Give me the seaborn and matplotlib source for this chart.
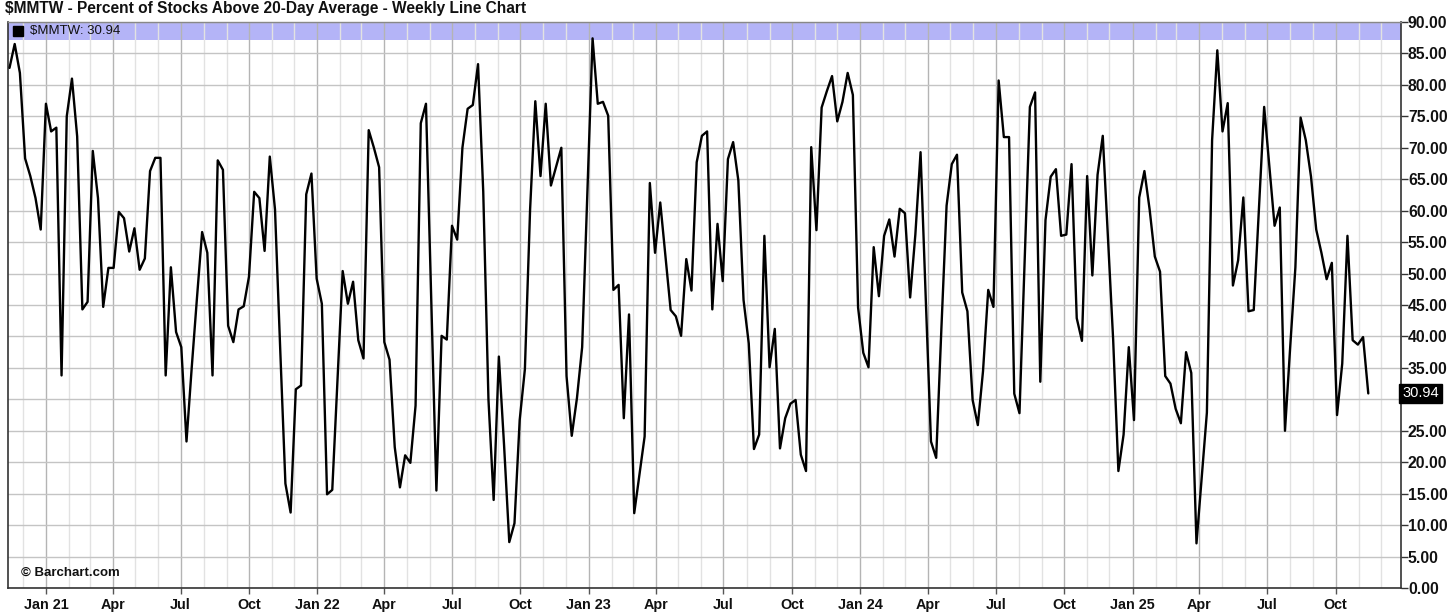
import numpy as np
import pandas as pd
import matplotlib
matplotlib.use("Agg")
import matplotlib.pyplot as plt
import matplotlib.dates as mdates
from matplotlib import font_manager
import seaborn as sns

# ---------------- data ----------------
start_date = "2020-11-13"
mmtw_values = [
    82.7, 86.5, 81.9, 68.3, 65.5, 62, 57, 77, 72.6, 73.2, 33.8, 75, 81, 71.8, 44.3, 45.5,
    69.5, 62, 44.7, 50.9, 50.9, 59.8, 58.8, 53.5, 57.2, 50.6, 52.4, 66.3, 68.4, 68.4, 33.8, 51, 40.7,
    38.3, 23.3, 35, 46, 56.6, 53.3, 33.8, 68, 66.5, 41.7, 39.1, 44.3, 44.8, 49.5, 63, 62, 53.6,
    68.6, 60.2, 38, 16.6, 12, 31.6, 32.2, 62.6, 65.9, 49.2, 45.2, 14.9, 15.6, 33, 50.4, 45.2, 48.7,
    39.4, 36.5, 72.8, 70, 66.9, 39.1, 36.3, 22.4, 16, 21.1, 19.9, 29, 73.9, 77, 46.4, 15.5, 40.1,
    39.5, 57.6, 55.4, 70, 76.2, 76.8, 83.3, 63, 30, 14, 36.8, 22.7, 7.3, 10.3, 26.7, 34.8,
    60.2, 77.4, 65.5, 77, 64, 67, 70, 33.7, 24.2, 30.2, 38.3, 62.8, 87.4, 77, 77.3, 75.1, 47.4,
    48.2, 27, 43.5, 11.9, 18, 24.1, 64.4, 53.3, 61.3, 52.7, 44.2, 43.2, 40.1, 52.3, 47.3, 67.7, 71.9,
    72.6, 44.3, 57.9, 48.8, 68.2, 70.9, 64.8, 45.8, 38.9, 22.1, 24.4, 56, 35.1, 41.2, 22.2, 27,
    29.3, 29.9, 21.2, 18.6, 70.1, 56.9, 76.4, 79, 81.4, 74.2, 77.3, 81.9, 78.4, 44.6, 37.4, 35.1, 54.2, 46.4,
    56, 58.6, 52.7, 60.3, 59.6, 46.2, 56.2, 69.3, 46, 23.3, 20.7, 41.2, 60.8, 67.4, 68.9, 47, 44,
    29.9, 25.9, 34.5, 47.4, 44.7, 80.7, 71.7, 71.7, 30.9, 27.8, 52.1, 76.5, 78.8, 32.8, 58.5, 65.4, 66.6,
    56, 56.2, 67.4, 42.9, 39.3, 65.5, 49.7, 65.7, 71.9, 55.6, 39.4, 18.6, 24.4, 38.3, 26.7, 62.1,
    66.3, 60.2, 52.7, 50.3, 33.7, 32.5, 28.5, 26.2, 37.5, 34.2, 7.1, 17.5, 27.9, 71.2, 85.5, 72.6, 77.1,
    48.1, 52.1, 62.1, 44, 44.2, 60.2, 76.5, 67.1, 57.6, 60.5, 25, 38.3, 51, 74.8, 71.2, 65.4, 57,
    53.3, 49.1, 51.7, 27.5, 35.7, 56, 39.4, 38.7, 39.9, 30.94,
]
last_value = 30.94
title_text = r"\$MMTW - Percent of Stocks Above 20-Day Average - Weekly Line Chart"
legend_text = r"\$MMTW: 30.94"
y_ticks = list(range(0, 95, 5))

dates = pd.date_range(start_date, periods=len(mmtw_values), freq="7D")
df = pd.DataFrame({"date": dates, "value": mmtw_values})

# ---------------- style ----------------
sns.set_style("white")
avail = {f.name for f in font_manager.fontManager.ttflist}
fam = [f for f in ["Liberation Sans Narrow", "Liberation Sans", "DejaVu Sans"] if f in avail]
plt.rcParams["font.family"] = fam
narrow = fam[0]
is_narrow = narrow == "Liberation Sans Narrow"
k = 1.0 if is_narrow else 0.83  # shrink regular-width font to match narrow widths

fig = plt.figure(figsize=(14.56, 6.15), dpi=100)
ax = fig.add_axes([8 / 1456, (615 - 588) / 615, 1393 / 1456, (588 - 22) / 615])

sns.lineplot(data=df, x="date", y="value", ax=ax, color="black", linewidth=1.7, zorder=3)

ax.set_xlim(pd.Timestamp("2020-11-11"), pd.Timestamp("2025-12-28"))
ax.set_ylim(0, 90)
ax.set_xlabel("")
ax.set_ylabel("")

# header band
ax.axhspan(87.1, 90, color="#b4b4f7", zorder=0.2, lw=0)
ax.plot([0.0072], [88.55], marker="s", ms=6.5, color="black", lw=0,
        transform=ax.get_yaxis_transform(), clip_on=False, zorder=5)
ax.text(0.0155, 88.55, legend_text, transform=ax.get_yaxis_transform(), fontsize=11.5 * k,
        va="center", ha="left", color="#111111", family=[narrow])

# grid
ax.xaxis.set_major_locator(mdates.MonthLocator(bymonth=[1, 4, 7, 10]))
ax.xaxis.set_minor_locator(mdates.MonthLocator())


def fmt(x, pos=None):
    d = mdates.num2date(x)
    if d.month == 1:
        return d.strftime("Jan %y")
    return d.strftime("%b")


ax.xaxis.set_major_formatter(plt.FuncFormatter(fmt))
ax.grid(which="major", axis="x", color="#b4b4b4", lw=1.0, zorder=0.5)
ax.grid(which="minor", axis="x", color="#e2e2e2", lw=1.0, zorder=0.4)
ax.set_yticks(y_ticks)
ax.grid(which="major", axis="y", color="#c4c4c4", lw=1.0, zorder=0.5)
ax.set_axisbelow(True)

ax.yaxis.tick_right()
# the 30.00 label is hidden behind the last-value box in the original
ax.yaxis.set_major_formatter(plt.FuncFormatter(lambda v, p: "" if abs(v - 30) < 1e-6 else f"{v:.2f}"))
ax.tick_params(axis="y", which="major", right=True, left=False, length=5, width=1,
               color="#333333", pad=0, labelsize=11.3, labelcolor="#111111")
ax.tick_params(axis="x", which="major", bottom=True, length=4, width=1, color="#555555",
               pad=3, labelsize=12.5 * k, labelcolor="#111111")
ax.tick_params(axis="x", which="minor", length=0)
for lab in ax.get_yticklabels() + ax.get_xticklabels():
    lab.set_fontweight("bold")
    lab.set_family(narrow)

for side in ["left", "bottom", "right"]:
    ax.spines[side].set_color("#333333")
    ax.spines[side].set_linewidth(1.2)
ax.spines["top"].set_color("#888888")
ax.spines["top"].set_linewidth(1.0)

# last value marker
ax.text(1.001, last_value, f"{last_value:.2f}", transform=ax.get_yaxis_transform(),
        fontsize=10.5, color="white", va="center", ha="left", family=[narrow],
        bbox=dict(boxstyle="square,pad=0.2", fc="black", ec="black"), zorder=10, clip_on=False)

# watermark
ax.text(0.009, 2.4, "© Barchart.com", transform=ax.get_yaxis_transform(), fontsize=11.5 * k,
        fontweight="bold", color="#111111", va="center", ha="left", family=[narrow])

fig.text(5 / 1456, 1 - 9 / 615, title_text, fontsize=13.5 * k, fontweight="bold",
         color="#111111", va="center", ha="left", family=[narrow])

fig.savefig("out.png", dpi=100)
